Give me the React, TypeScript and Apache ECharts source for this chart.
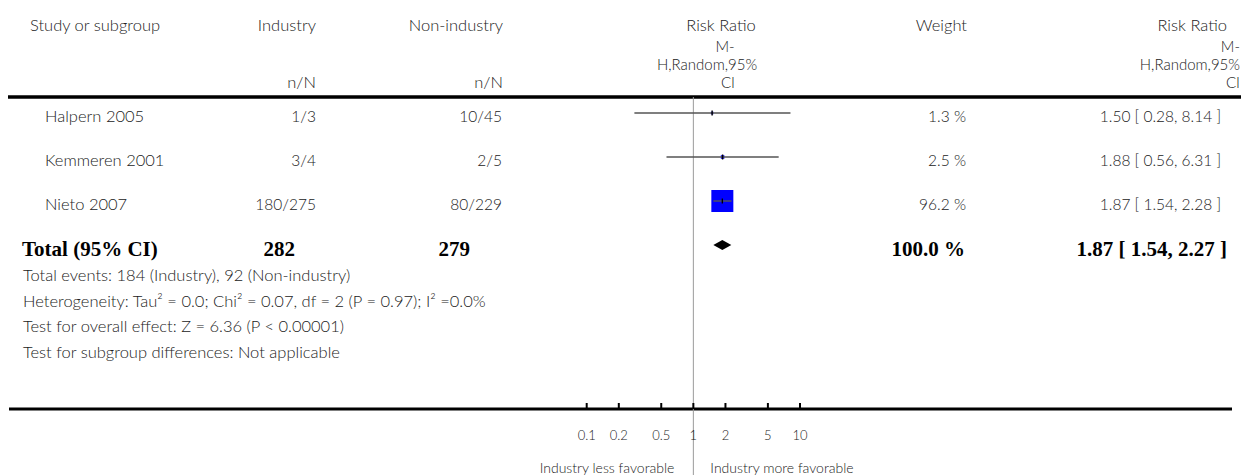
import React, { useEffect, useRef } from "react";
import * as echarts from "echarts";

// ---------- data ----------
const studies = ["Halpern 2005", "Kemmeren 2001", "Nieto 2007"];
const industryEvents = [1, 3, 180];
const industryTotals = [3, 4, 275];
const nonIndustryEvents = [10, 2, 80];
const nonIndustryTotals = [45, 5, 229];
const weights = [1.3, 2.5, 96.2];
const riskRatios = [1.5, 1.88, 1.87];
const ciLower = [0.28, 0.56, 1.54];
const ciUpper = [8.14, 6.31, 2.28];

const totalLabel = "Total (95% CI)";
const totalIndustryN = 282;
const totalNonIndustryN = 279;
const totalWeight = 100.0;
const totalRR = 1.87;
const totalLower = 1.54;
const totalUpper = 2.27;

const footerLines = [
  "Total events: 184 (Industry), 92 (Non-industry)",
  "Heterogeneity: Tau² = 0.0; Chi² = 0.07, df = 2 (P = 0.97); I² =0.0%",
  "Test for overall effect: Z = 6.36 (P < 0.00001)",
  "Test for subgroup differences: Not applicable",
];

const axisTicks = [0.1, 0.2, 0.5, 1, 2, 5, 10];
const axisTickLabels = ["0.1", "0.2", "0.5", "1", "2", "5", "10"];
const leftFavours = "Industry less favorable";
const rightFavours = "Industry more favorable";
const methodLines = ["M-", "H,Random,95%", "CI"];

// ---------- layout / style ----------
const W = 1256;
const H = 475;
const ROW0 = 113;
const ROW_STEP = 44;
const HEADER_LINE_Y = 97;
const AXIS_Y = 409;
const Y_MIN = (HEADER_LINE_Y - ROW0) / ROW_STEP;
const Y_MAX = (AXIS_Y - ROW0) / ROW_STEP;
const SANS = "Lato, 'Open Sans', sans-serif";
const SERIF = "'Liberation Serif', 'DejaVu Serif', serif";
const TXT = "#222";
const MAX_BOX = 22;
const FS = 16.5;
const FS_NUM = 15.5;

const rowY = (i: number) => ROW0 + ROW_STEP * i;

function txt(text: string, x: number, y: number, align: string, opts: any = {}) {
  const fontSize = opts.fontSize ?? FS;
  return {
    type: "text",
    x,
    y,
    style: {
      text,
      align,
      verticalAlign: "middle",
      fontSize,
      lineHeight: opts.lineHeight ?? Math.ceil(fontSize),
      fontFamily: opts.fontFamily ?? SANS,
      fontWeight: opts.fontWeight ?? 300,
      fill: opts.fill ?? TXT,
    },
  };
}

export default function App() {
  const ref = useRef<HTMLDivElement>(null);

  useEffect(() => {
    if (!ref.current) return;
    const chart = echarts.init(ref.current, undefined, { renderer: "svg" });
    const maxW = Math.max(...weights);
    const num = { fontSize: FS_NUM };
    const hdr = { fontSize: 15, lineHeight: 18 };

    const graphics: any[] = [];
    // header
    graphics.push(txt("Study or subgroup", 30, 25, "left"));
    graphics.push(txt("Industry", 316, 25, "right"));
    graphics.push(txt("n/N", 316, 82, "right"));
    graphics.push(txt("Non-industry", 503, 25, "right"));
    graphics.push(txt("n/N", 503, 82, "right"));
    graphics.push(txt("Risk Ratio", 721, 25, "center"));
    graphics.push(txt(methodLines[0], 725, 46, "center", hdr));
    graphics.push(txt(methodLines[1], 707, 64, "center", hdr));
    graphics.push(txt(methodLines[2], 728, 82, "center", hdr));
    graphics.push(txt("Weight", 967, 25, "right"));
    graphics.push(txt("Risk Ratio", 1227, 25, "right"));
    graphics.push(txt(methodLines[0], 1240, 46, "right", hdr));
    graphics.push(txt(methodLines[1], 1240, 64, "right", hdr));
    graphics.push(txt(methodLines[2], 1240, 82, "right", hdr));

    // study rows
    studies.forEach((s, i) => {
      const y = rowY(i) + 3;
      graphics.push(txt(s, 45, y, "left"));
      graphics.push(txt(`${industryEvents[i]}/${industryTotals[i]}`, 316, y, "right", num));
      graphics.push(txt(`${nonIndustryEvents[i]}/${nonIndustryTotals[i]}`, 502, y, "right", num));
      graphics.push(txt(`${weights[i].toFixed(1)} %`, 966, y, "right", num));
      graphics.push(
        txt(
          `${riskRatios[i].toFixed(2)} [ ${ciLower[i].toFixed(2)}, ${ciUpper[i].toFixed(2)} ]`,
          1221,
          y,
          "right",
          num
        )
      );
    });

    // total row
    const ty = rowY(3) + 4;
    const bold = { fontFamily: SERIF, fontWeight: "bold", fontSize: 21, fill: "#000" };
    graphics.push(txt(totalLabel, 22, ty, "left", bold));
    graphics.push(txt(String(totalIndustryN), 295, ty, "right", bold));
    graphics.push(txt(String(totalNonIndustryN), 470, ty, "right", bold));
    graphics.push(txt(`${totalWeight.toFixed(1)} %`, 965, ty, "right", bold));
    graphics.push(
      txt(`${totalRR.toFixed(2)} [ ${totalLower.toFixed(2)}, ${totalUpper.toFixed(2)} ]`, 1227, ty, "right", bold)
    );

    // footer
    footerLines.forEach((l, i) => {
      graphics.push(txt(l, 23, 275 + 25.7 * i, "left"));
    });

    // rules
    graphics.push({
      type: "line",
      shape: { x1: 8, y1: HEADER_LINE_Y, x2: 1241, y2: HEADER_LINE_Y },
      style: { stroke: "#000", lineWidth: 3.5 },
    });
    graphics.push({
      type: "line",
      shape: { x1: 9, y1: AXIS_Y, x2: 1232, y2: AXIS_Y },
      style: { stroke: "#000", lineWidth: 3 },
    });

    const option: any = {
      animation: false,
      grid: { left: 586.7, right: W - 800, top: HEADER_LINE_Y, bottom: H - AXIS_Y },
      xAxis: { type: "log", logBase: 10, min: 0.1, max: 10, show: false },
      yAxis: { type: "value", inverse: true, min: Y_MIN, max: Y_MAX, show: false },
      graphic: graphics,
      series: [
        {
          type: "custom",
          name: "null",
          data: [[1, 0]],
          z: 1,
          renderItem: (params: any, api: any) => {
            const x = api.coord([api.value(0), 0])[0];
            return {
              type: "line",
              shape: { x1: x, y1: HEADER_LINE_Y, x2: x, y2: H },
              style: { stroke: "#9a9a9a", lineWidth: 1 },
            };
          },
        },
        {
          type: "custom",
          name: "studies",
          z: 3,
          data: studies.map((_, i) => [riskRatios[i], i, ciLower[i], ciUpper[i], weights[i]]),
          renderItem: (params: any, api: any) => {
            const row = api.value(1);
            const c = api.coord([api.value(0), row]);
            const l = api.coord([api.value(2), row]);
            const h = api.coord([api.value(3), row]);
            const s = MAX_BOX * Math.sqrt(api.value(4) / maxW);
            return {
              type: "group",
              children: [
                {
                  type: "rect",
                  shape: { x: c[0] - s / 2, y: c[1] - s / 2, width: s, height: s },
                  style: { fill: "#0000ff" },
                },
                {
                  type: "line",
                  shape: { x1: l[0], y1: l[1], x2: h[0], y2: h[1] },
                  style: { stroke: "#555", lineWidth: 1.4 },
                },
                {
                  type: "line",
                  shape: { x1: c[0], y1: c[1] - 2.5, x2: c[0], y2: c[1] + 2.5 },
                  style: { stroke: "#000", lineWidth: 1.4 },
                },
              ],
            };
          },
        },
        {
          type: "custom",
          name: "total",
          z: 3,
          data: [[totalRR, 3, totalLower, totalUpper]],
          renderItem: (params: any, api: any) => {
            const row = api.value(1);
            const c = api.coord([api.value(0), row]);
            const l = api.coord([api.value(2), row]);
            const h = api.coord([api.value(3), row]);
            return {
              type: "polygon",
              shape: {
                points: [
                  [l[0], c[1]],
                  [c[0], c[1] - 5],
                  [h[0], c[1]],
                  [c[0], c[1] + 5],
                ],
              },
              style: { fill: "#000" },
            };
          },
        },
        {
          type: "custom",
          name: "ticks",
          z: 4,
          data: axisTicks.map((t, i) => [t, Y_MAX, i]),
          renderItem: (params: any, api: any) => {
            const p = api.coord([api.value(0), api.value(1)]);
            const label = axisTickLabels[api.value(2)];
            return {
              type: "group",
              children: [
                {
                  type: "line",
                  shape: { x1: p[0], y1: p[1] - 6, x2: p[0], y2: p[1] },
                  style: { stroke: "#000", lineWidth: 2 },
                },
                {
                  type: "text",
                  style: {
                    text: label,
                    x: p[0],
                    y: p[1] + 26,
                    align: "center",
                    verticalAlign: "middle",
                    fontSize: 13,
                    fontFamily: SANS,
                    fontWeight: 300,
                    fill: TXT,
                  },
                },
              ],
            };
          },
        },
        {
          type: "custom",
          name: "favours",
          z: 4,
          data: [[1, Y_MAX]],
          renderItem: (params: any, api: any) => {
            const p = api.coord([api.value(0), api.value(1)]);
            const mk = (text: string, x: number, align: string) => ({
              type: "text",
              style: {
                text,
                x,
                y: p[1] + 58,
                align,
                verticalAlign: "middle",
                fontSize: 14,
                fontFamily: SANS,
                fontWeight: 300,
                fill: TXT,
              },
            });
            return {
              type: "group",
              children: [mk(leftFavours, p[0] - 19, "right"), mk(rightFavours, p[0] + 17, "left")],
            };
          },
        },
      ],
    };

    chart.setOption(option);
    return () => chart.dispose();
  }, []);

  return (
    <div
      ref={ref}
      style={{ position: "absolute", left: 0, top: 0, width: W, height: H, background: "#fff" }}
    />
  );
}
